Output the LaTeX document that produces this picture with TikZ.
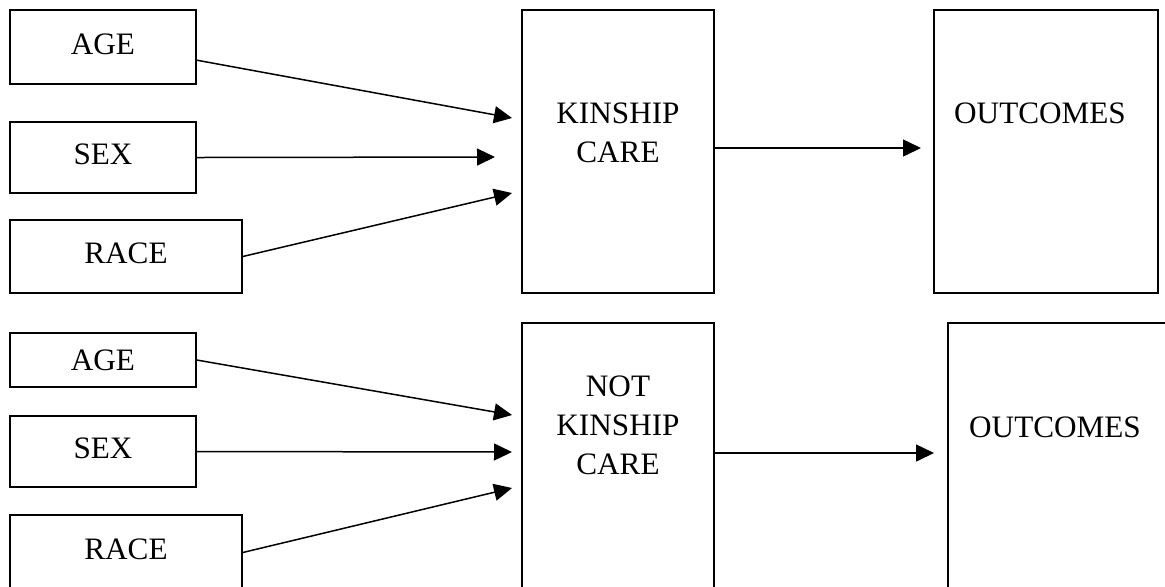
\documentclass[tikz,border=0pt]{standalone}
\usepackage{fontspec}
\setmainfont{Liberation Serif}
\usetikzlibrary{arrows.meta}

\begin{document}
\begin{tikzpicture}[x=0.5pt,y=-0.5pt,
		box/.style={draw, line width=0.75pt, inner sep=0pt, font=\fontsize{15.6}{19.5}\selectfont, text depth=3pt},
		boxtext/.style={align=center, inner sep=0pt, font=\fontsize{15.6}{19.5}\selectfont},
		link/.style={line width=0.75pt, -{Triangle[length=9pt,width=8.5pt]}}]
		\useasboundingbox (0,0) rectangle (1165,586);
		\clip (0,0) rectangle (1165,586);
		% upper row
		\node[box, minimum width=93pt, minimum height=37pt] (age1) at (103,47) {AGE};
		\node[box, minimum width=93pt, minimum height=35.5pt] (sex1) at (103,157.5) {SEX};
		\node[box, minimum width=116pt, minimum height=36.5pt] (race1) at (126,256.5) {RACE};
		\node[box, minimum width=96pt, minimum height=141.5pt] (kin1) at (618,151.5) {};
		\node[boxtext] (kin1text) at (618,133) {KINSHIP\\CARE};
		\node[box, minimum width=112pt, minimum height=141.5pt] (out1) at (1046,151.5) {};
		\node[boxtext] (out1text) at (1040,113) {OUTCOMES};
		% lower row
		\node[box, minimum width=93pt, minimum height=27pt, text depth=0pt] (age2) at (103,360) {AGE};
		\node[box, minimum width=93pt, minimum height=35.5pt] (sex2) at (103,451.5) {SEX};
		\node[box, minimum width=116pt, minimum height=37.5pt] (race2) at (126,552.5) {RACE};
		\node[box, minimum width=96pt, minimum height=143.5pt] (kin2) at (618,466.5) {};
		\node[boxtext] (kin2text) at (618,425.5) {NOT\\KINSHIP\\CARE};
		\node[box, minimum width=116pt, minimum height=143.5pt] (out2) at (1064,466.5) {};
		\node[boxtext] (out2text) at (1055,427) {OUTCOMES};
		% arrow tips
		\coordinate (tipage1) at (512,118);
		\coordinate (tipsex1) at (495,157);
		\coordinate (tiprace1) at (512,193);
		\coordinate (tipkin1) at (921,148);
		\coordinate (tipage2) at (512,415);
		\coordinate (tipsex2) at (512,452);
		\coordinate (tiprace2) at (512,488);
		\coordinate (tipkin2) at (934,453);
		\draw[link] (age1.-8) -- (tipage1);
		\draw[link] (sex1.east) -- (tipsex1);
		\draw[link] (race1.east) -- (tiprace1);
		\draw[link] (kin1.east |- tipkin1) -- (tipkin1);
		\draw[link] (age2.east) -- (tipage2);
		\draw[link] (sex2.east) -- (tipsex2);
		\draw[link] (race2.east) -- (tiprace2);
		\draw[link] (kin2.east |- tipkin2) -- (tipkin2);
\end{tikzpicture}
\end{document}
